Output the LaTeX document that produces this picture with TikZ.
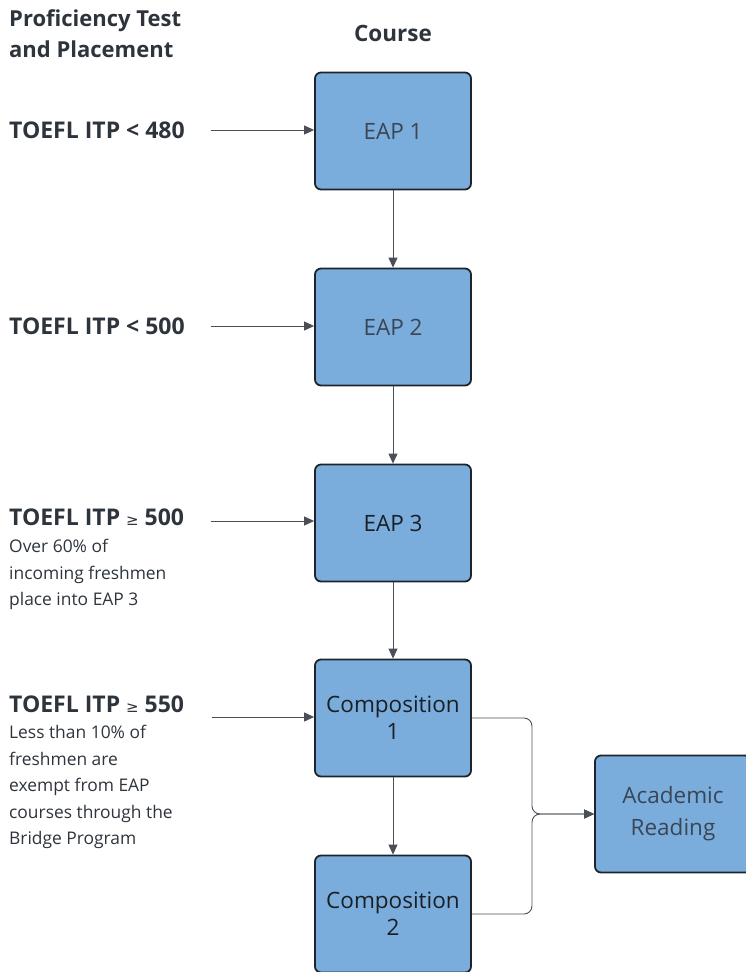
\documentclass[tikz,border=0pt]{standalone}
\usepackage{fontspec}
\setmainfont{Open Sans}
\newfontfamily\symfont{DejaVu Sans}
\usetikzlibrary{arrows.meta}
\definecolor{boxfill}{HTML}{7BADDC}
\definecolor{boxline}{HTML}{1E242C}
\definecolor{txtgray}{HTML}{3A4656}
\definecolor{txtdark}{HTML}{1A1F26}
\definecolor{linegray}{HTML}{4A4F57}
\definecolor{headtxt}{HTML}{2E343C}
\tikzset{
  course/.style={draw=boxline, line width=1.8pt, fill=boxfill, rounded corners=6pt,
    minimum width=156pt, minimum height=117pt, inner sep=0pt, align=center,
    font=\fontsize{22.5}{27}\selectfont},
  hdr/.style={anchor=west, inner sep=0pt, align=left, text=headtxt,
    font=\fontsize{23}{31}\selectfont\bfseries},
  note/.style={anchor=north west, inner sep=0pt, align=left, text=headtxt,
    font=\fontsize{17.4}{26.5}\selectfont},
  conn/.style={draw=linegray, line width=0.9pt, -{Triangle[length=10pt,width=9pt]}},
}
\newcommand{\geqsym}{{\symfont\fontsize{15}{15}\selectfont\mdseries ≥}}
\begin{document}
\begin{tikzpicture}[x=1pt,y=-1pt]
\useasboundingbox (0,0) rectangle (746,972);
% headers
\node[anchor=north west, inner sep=0pt, align=left, text=headtxt,
  font=\fontsize{22}{31}\selectfont\bfseries] (h1) at (9,9) {Proficiency Test\\and Placement};
\node[inner sep=0pt, text=headtxt, font=\fontsize{22.5}{24}\selectfont\bfseries] (h2) at (393,33) {Course};
% course boxes
\node[course, text=txtgray] (e1) at (393,131) {EAP 1};
\node[course, text=txtgray] (e2) at (393,327) {EAP 2};
\node[course, text=txtdark] (e3) at (393,523) {EAP 3};
\node[course, text=txtdark] (c1) at (393,718) {Composition\\1};
\node[course, text=txtdark] (c2) at (393,914) {Composition\\2};
\node[course, text=txtgray, font=\fontsize{22.5}{32}\selectfont] (ar) at (673,814) {Academic\\Reading};
% criteria
\node[hdr] (t1) at (9,130) {TOEFL ITP < 480};
\node[hdr] (t2) at (9,326) {TOEFL ITP < 500};
\node[hdr] (t3) at (9,517) {TOEFL ITP \geqsym\ 500};
\node[note] (n3) at (9,539) {Over 60\% of\\incoming freshmen\\place into EAP 3};
\node[hdr] (t4) at (9,704) {TOEFL ITP \geqsym\ 550};
\node[note] (n4) at (9,725) {Less than 10\% of\\freshmen are\\exempt from EAP\\courses through the\\Bridge Program};
% arrow starts
\coordinate (s1) at (211,130);
\coordinate (s2) at (211,326);
\coordinate (s3) at (211,521);
\coordinate (s4) at (212,717);
\coordinate (m) at (532,814);
\draw[conn] (s1) -- (s1 -| e1.west);
\draw[conn] (s2) -- (s2 -| e2.west);
\draw[conn] (s3) -- (s3 -| e3.west);
\draw[conn] (s4) -- (s4 -| c1.west);
\draw[conn] (e1.south) -- (e2.north);
\draw[conn] (e2.south) -- (e3.north);
\draw[conn] (e3.south) -- (c1.north);
\draw[conn] (c1.south) -- (c2.north);
\draw[conn, rounded corners=8pt] (c1.east) -| (m) -- (ar.west);
\draw[conn, rounded corners=8pt] (c2.east) -| (m) -- (ar.west);
\end{tikzpicture}
\end{document}
